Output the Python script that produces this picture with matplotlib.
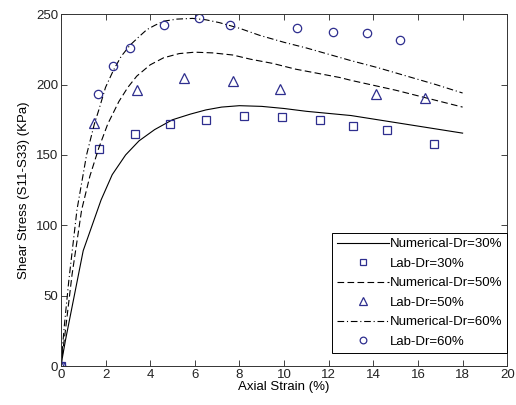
import matplotlib.pyplot as plt

plt.rcParams['font.family'] = ['Liberation Sans', 'DejaVu Sans']

# Numerical curves (axial strain %, shear stress kPa)
num30_x = [0, 0.2, 0.5, 1.0, 1.4, 1.8, 2.3, 2.9, 3.5, 4.2, 5.0, 5.8, 6.5, 7.2, 8.0,
           9.0, 10.0, 11.0, 12.0, 13.0, 14.0, 15.0, 16.0, 17.0, 18.0]
num30_y = [0, 18, 42, 82, 100, 118, 136, 150, 160, 168, 175, 179, 182, 184, 185,
           184.5, 183, 181, 179.5, 178, 175.5, 173, 170.5, 168, 165.5]

num50_x = [0, 0.2, 0.5, 0.93, 1.3, 1.7, 2.1, 2.6, 3.0, 3.4, 4.0, 4.6, 5.3, 6.0, 6.8,
           7.7, 8.5, 9.5, 10.5, 11.5, 12.5, 13.0, 14.0, 15.0, 16.0, 17.0, 18.0]
num50_y = [0, 25, 65, 111, 135, 155, 172, 188, 198, 206, 214, 219, 222, 223, 222.5,
           221, 218, 215, 211, 208, 205, 203, 199.5, 196, 192, 188, 184]

num60_x = [0, 0.15, 0.35, 0.72, 1.15, 1.5, 1.7, 2.0, 2.35, 2.7, 3.1, 3.5, 3.85, 4.2,
           4.6, 5.2, 5.9, 6.5, 7.1, 8.0, 8.9, 10.0, 11.0, 12.0, 13.0, 14.2, 15.5, 16.8, 18.0]
num60_y = [0, 28, 60, 111, 150, 172, 182, 198, 210, 220, 228, 234, 239, 242,
           245, 246.5, 247, 246, 244, 240, 235, 230, 226, 221.5, 217, 212, 206, 200, 194]

# Laboratory results
lab30_x = [0, 1.7, 3.3, 4.9, 6.5, 8.2, 9.9, 11.6, 13.1, 14.6, 16.7]
lab30_y = [0, 154, 165, 172, 175, 178, 177, 175, 170.5, 168, 158]

lab50_x = [0, 1.5, 3.4, 5.5, 7.7, 9.8, 14.1, 16.3]
lab50_y = [0, 172.5, 196, 204.5, 202.5, 196.5, 193, 190.5]

lab60_x = [0, 1.66, 2.35, 3.1, 4.6, 6.2, 7.6, 10.6, 12.2, 13.7, 15.2]
lab60_y = [0, 193, 213, 226, 242, 247, 242, 240.5, 237, 236.5, 232]

mk = '#2e2e8e'
fs = 9.5

fig = plt.figure(figsize=(5.16, 4.05), dpi=100)
ax = fig.add_axes([0.118, 0.096, 0.865, 0.869])

ax.plot(num30_x, num30_y, '-', color='black', lw=0.8, label='Numerical-Dr=30%')
ax.plot(lab30_x, lab30_y, 's', mfc='none', mec=mk, mew=0.9, ms=6, label='Lab-Dr=30%')
ax.plot(num50_x, num50_y, '--', color='black', lw=0.8, dashes=(6, 3), label='Numerical-Dr=50%')
ax.plot(lab50_x, lab50_y, '^', mfc='none', mec=mk, mew=0.9, ms=7, label='Lab-Dr=50%')
ax.plot(num60_x, num60_y, '-.', color='black', lw=0.8, dashes=(6, 2.5, 1, 2.5),
        label='Numerical-Dr=60%')
ax.plot(lab60_x, lab60_y, 'o', mfc='none', mec=mk, mew=0.9, ms=6, label='Lab-Dr=60%')

ax.set_xlim(0, 20)
ax.set_ylim(0, 250)
ax.set_xticks(range(0, 21, 2))
ax.set_yticks(range(0, 251, 50))
ax.tick_params(direction='in', top=True, right=True, length=4, width=0.6,
               labelsize=fs, pad=2, colors='#222222')
for s in ax.spines.values():
    s.set_linewidth(0.7)
    s.set_color('#333333')

ax.set_xlabel('Axial Strain (%)', fontsize=fs, labelpad=0)
ax.set_ylabel('Shear Stress (S11-S33) (KPa)', fontsize=fs, labelpad=4)

leg = ax.legend(loc='lower right', bbox_to_anchor=(1.0, 0.037), fontsize=fs,
                handlelength=3.9, handletextpad=0.05, borderpad=0.4,
                labelspacing=0.55, markerscale=0.8, fancybox=False, framealpha=1,
                edgecolor='black', borderaxespad=0)
leg.get_frame().set_linewidth(0.7)

fig.savefig('out.png', dpi=100)
